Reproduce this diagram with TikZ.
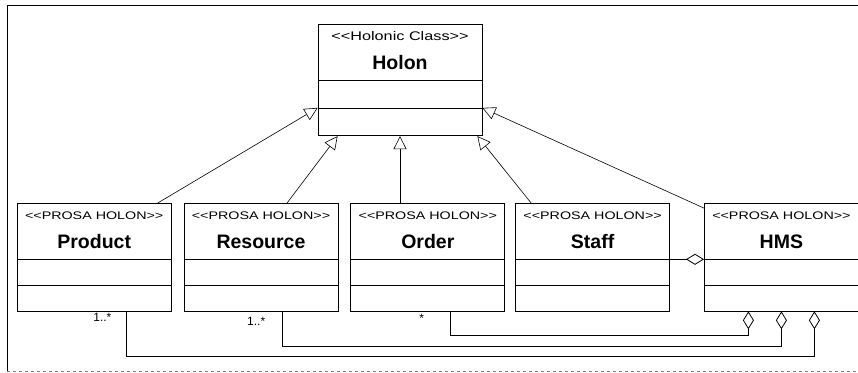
\documentclass[tikz,border=0pt]{standalone}
\usepackage{fontspec}
\setmainfont{Liberation Sans}
\newfontfamily\stereofont[FakeStretch=1.3]{Liberation Sans}
\usetikzlibrary{
    shapes.multipart,
    arrows.meta,
    positioning
}
\newcommand{\stereotype}[2][11]{\rule[-2pt]{0pt}{18pt}{\stereofont\fontsize{#1}{13}\selectfont #2}}
\newcommand{\classname}[1]{\rule[-10pt]{0pt}{36pt}{\fontsize{19.5}{22}\selectfont\bfseries #1}}
\tikzset{
    holonclass/.style={
        rectangle split,
        rectangle split parts=3,
        draw,
        align=center,
        inner xsep=0pt,
        inner ysep=0pt,
        minimum width=154pt,
        rectangle split empty part height=25pt,
        rectangle split empty part depth=0pt,
        line width=0.8pt
    },
    generalization/.style={
        -{Triangle[open, length=13pt, width=13pt]},
        line width=0.6pt
    },
    aggregation/.style={
        -{Diamond[open, length=18pt, width=11pt]},
        line width=0.8pt
    },
    mult/.style={
        font=\fontsize{12}{14}\selectfont,
        inner sep=0pt
    }
}

\begin{document}
\begin{tikzpicture}[x=1pt, y=1pt]
        \useasboundingbox (0,0) rectangle (858,-372);

        % Frame
        \draw[line width=0.8pt] (870,-5) -- (7,-5) -- (7,-371);
        \draw[gray, dashed, line width=0.8pt] (7,-371) -- (870,-371);

        % Holon (Holonic Class)
        \node [holonclass, minimum width=164pt, rectangle split empty part height=27pt] (holon) at (400,-80) {
            \stereotype[12.5]{<<Holonic Class>>}\\
            \classname{Holon}
            \nodepart{two}
            \nodepart{three}
        };

        % Product
        \node [holonclass, below left=67pt and 146pt of holon] (product) {
            \stereotype{<<PROSA HOLON>>}\\
            \classname{Product}
            \nodepart{two}
            \nodepart{three}
        };

        % Resource
        \node [holonclass, right=12pt of product] (resource) {
            \stereotype{<<PROSA HOLON>>}\\
            \classname{Resource}
            \nodepart{two}
            \nodepart{three}
        };

        % Order
        \node [holonclass, right=12pt of resource] (order) {
            \stereotype{<<PROSA HOLON>>}\\
            \classname{Order}
            \nodepart{two}
            \nodepart{three}
        };

        % Staff
        \node [holonclass, right=10pt of order] (staff) {
            \stereotype{<<PROSA HOLON>>}\\
            \classname{Staff}
            \nodepart{two}
            \nodepart{three}
        };

        % HMS
        \node [holonclass, right=34pt of staff] (hms) {
            \stereotype{<<PROSA HOLON>>}\\
            \classname{HMS}
            \nodepart{two}
            \nodepart{three}
        };

        % Generalization arrows
        \draw [generalization] ([xshift=-14pt]product.north east) -- (holon.two split west);
        \draw [generalization] ([xshift=26pt]resource.north) -- ([xshift=20pt]holon.south west);
        \draw [generalization] (holon.south |- order.north) -- (holon.south);
        \draw [generalization] ([xshift=16pt]staff.north west) -- ([xshift=-5pt]holon.south east);
        \draw [generalization] ([yshift=-5pt]hms.north west) -- (holon.two split east);

        % Aggregations
        \draw [aggregation] (staff.one split east) -- (hms.one split west);

        \draw [aggregation] ([xshift=100pt]order.south west)
            node [mult, below left=3pt and 26pt] (order_mult) {*}
            -- ++(0,-24pt) -| ([xshift=-33pt]hms.south);

        \draw [aggregation] ([xshift=99pt]resource.south west)
            node [mult, below left=6pt and 17pt] (resource_mult) {1..*}
            -- ++(0,-35pt) -| (hms.south);

        \draw [aggregation] ([xshift=110pt]product.south west)
            node [mult, below left=2pt and 15pt] (product_mult) {1..*}
            -- ++(0,-45pt) -| ([xshift=33pt]hms.south);
    \end{tikzpicture}
\end{document}
